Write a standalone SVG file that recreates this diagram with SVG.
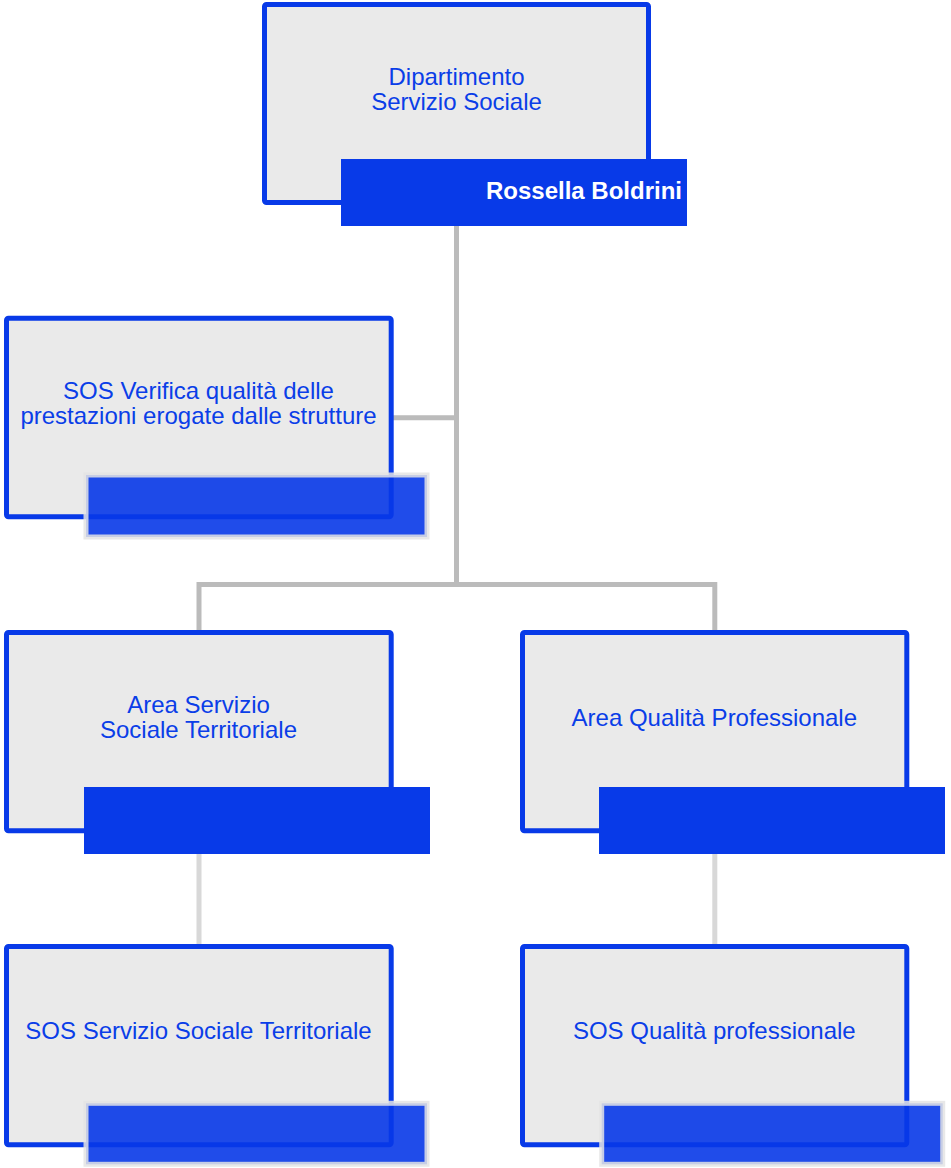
<svg xmlns="http://www.w3.org/2000/svg" width="951" height="1168" viewBox="0 0 951 1168">
<style>
.box{fill:#eaeaea;stroke:#083ae8;stroke-width:5}
.bar{fill:#083ae8}
.tbar{fill:#0838e8;fill-opacity:0.9;stroke:#e4e4e4;stroke-opacity:0.85;stroke-width:5}
.lbl{font-family:"Liberation Sans",Arial,sans-serif;font-size:24px;fill:#0a3ee8;text-anchor:middle}
.name{font-family:"Liberation Sans",Arial,sans-serif;font-size:24px;font-weight:bold;fill:#ffffff;text-anchor:end}
.c1{stroke:#bbbbbb;stroke-width:5;fill:none}
.c2{stroke:#d8d8d8;stroke-width:5;fill:none}
</style>
<rect width="951" height="1168" fill="#ffffff"/>
<g id="connectors">
<path class="c1" d="M456.5 226 V584.5 M393 417.7 H456.5 M199 584.5 H714.8 M199 582 V632 M714.8 582 V632"/>
<path class="c2" d="M199 854 V946 M714.8 854 V946"/>
</g>
<g id="node-dipartimento">
<rect class="box" x="264.5" y="4.5" width="384" height="198" rx="2"/>
<text class="lbl" x="456.5" y="85">Dipartimento</text>
<text class="lbl" x="456.5" y="110">Servizio Sociale</text>
<rect class="bar" x="341" y="159" width="346" height="67"/>
<text class="name" x="682" y="199">Rossella Boldrini</text>
</g>
<g id="node-sos-verifica">
<rect class="box" x="6.5" y="318.2" width="384.7" height="198.6" rx="2"/>
<text class="lbl" x="198.5" y="399.3">SOS Verifica qualità delle</text>
<text class="lbl" x="198.5" y="424.3">prestazioni erogate dalle strutture</text>
<rect class="tbar" x="86" y="475" width="341" height="62"/>
</g>
<g id="node-area-territoriale">
<rect class="box" x="6.5" y="632.5" width="384.7" height="198.3" rx="2"/>
<text class="lbl" x="198.5" y="712.8">Area Servizio</text>
<text class="lbl" x="198.5" y="737.8">Sociale Territoriale</text>
<rect class="bar" x="84" y="787" width="346" height="67"/>
</g>
<g id="node-area-qualita">
<rect class="box" x="522.5" y="632.5" width="384.3" height="198.3" rx="2"/>
<text class="lbl" x="714.3" y="726">Area Qualità Professionale</text>
<rect class="bar" x="599" y="787" width="346" height="67"/>
</g>
<g id="node-sos-territoriale">
<rect class="box" x="6.5" y="946.5" width="384.7" height="198.3" rx="2"/>
<text class="lbl" x="198.5" y="1039.3">SOS Servizio Sociale Territoriale</text>
<rect class="tbar" x="86" y="1103.3" width="341" height="61"/>
</g>
<g id="node-sos-qualita">
<rect class="box" x="522.5" y="946.5" width="384.3" height="198.3" rx="2"/>
<text class="lbl" x="714.3" y="1039.3">SOS Qualità professionale</text>
<rect class="tbar" x="601.7" y="1103.3" width="341" height="61"/>
</g>
</svg>
